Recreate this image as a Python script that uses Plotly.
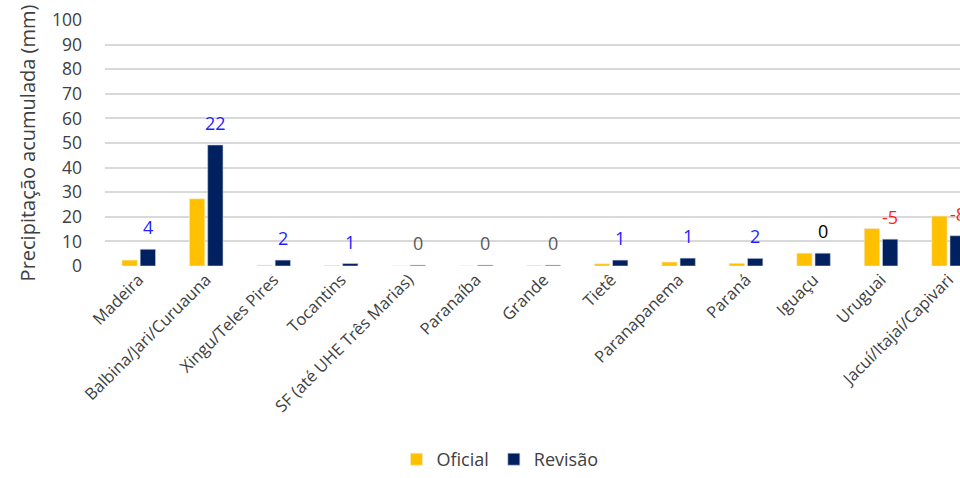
import plotly.graph_objects as go

categories = ["Madeira", "Balbina/Jari/Curuauna", "Xingu/Teles Pires", "Tocantins",
              "SF (até UHE Três Marias)", "Paranaíba", "Grande", "Tietê",
              "Paranapanema", "Paraná", "Iguaçu", "Uruguai", "Jacuí/Itajaí/Capivari"]
oficial = [2.4, 27.3, 0.3, 0.2, 0.0, 0.0, 0.2, 0.9, 1.6, 1.1, 5.2, 15.2, 20.3]
revisao = [6.8, 49.2, 2.4, 1.0, 0.3, 0.3, 0.3, 2.4, 3.2, 3.1, 5.2, 10.9, 12.3]
diff_labels = [4, 22, 2, 1, 0, 0, 0, 1, 1, 2, 0, -5, -8]
label_colors = ["#1f1fff", "#1f1fff", "#1f1fff", "#1f1fff", "#595959", "#595959", "#595959",
                "#1f1fff", "#1f1fff", "#1f1fff", "#000000", "#ff1f1f", "#ff1f1f"]
y_ticks = list(range(0, 101, 10))

FONT = "Open Sans"
idx = list(range(len(categories)))
bargap = 0.46

fig = go.Figure()
fig.add_trace(go.Bar(x=idx, y=oficial, name="Oficial", marker_color="#FFC000",
                     marker_line=dict(width=0.6, color="#f3ead0")))
fig.add_trace(go.Bar(x=idx, y=revisao, name="Revisão", marker_color="#002060",
                     marker_line=dict(width=0.6, color="#c9ced8")))

off = (1 - bargap) / 4
for i, (lab, col) in enumerate(zip(diff_labels, label_colors)):
    fig.add_annotation(x=i + off, y=revisao[i], xref="x", yref="y", text=str(lab),
                       showarrow=False, yanchor="middle", yshift=22,
                       font=dict(family=FONT, size=18, color=col))

fig.update_layout(
    width=960, height=478,
    margin=dict(l=105, r=0, t=20, b=208),
    paper_bgcolor="white", plot_bgcolor="white",
    barmode="group", bargap=bargap, bargroupgap=0.16,
    font=dict(family=FONT, color="#404040"),
    showlegend=True,
    legend=dict(orientation="h", x=0.462, xanchor="center", y=-0.788, yanchor="middle",
                font=dict(family=FONT, size=18, color="#404040"), itemwidth=30,
                tracegroupgap=0),
    xaxis=dict(range=[-0.5, 12.17], tickmode="array", tickvals=idx, ticktext=categories,
               tickangle=-45, tickfont=dict(family=FONT, size=16.5, color="#404040"),
               showgrid=False, zeroline=False, showline=False, ticks=""),
    yaxis=dict(range=[0, 100], tickvals=y_ticks, showgrid=True, gridcolor="#d9d9d9",
               gridwidth=1.5, zeroline=False, showline=False, ticks="",
               ticklabelstandoff=22,
               tickfont=dict(family=FONT, size=17.5, color="#404040"),
               title=dict(text="Precipitação acumulada (mm)", standoff=10,
                          font=dict(family=FONT, size=20, color="#404040"))),
)

fig.write_html("out.html")
